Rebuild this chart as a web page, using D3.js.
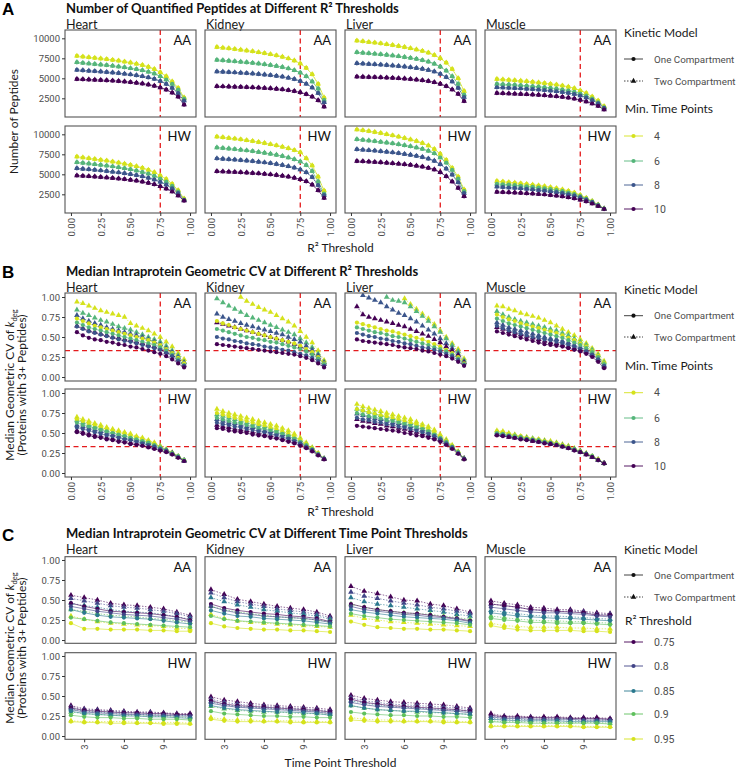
<!DOCTYPE html>
<html><head><meta charset="utf-8">
<script src="https://cdn.jsdelivr.net/npm/d3@7"></script>
<style>body{margin:0;background:#fff}svg{display:block}</style>
</head><body>
<svg id="chart" width="738" height="769"></svg>
<script>
// ---------- categories ----------
const tissues = ["Heart","Kidney","Liver","Muscle"];
const diets = ["AA","HW"];
const models = ["One Compartment","Two Compartment"];
const r2Thresholds = [0.05,0.10,0.15,0.20,0.25,0.30,0.35,0.40,0.45,0.50,0.55,0.60,0.65,0.70,0.75,0.80,0.85,0.90,0.95];
const minTimePoints = [4,6,8,10];
const timePointThresholds = [2,3,4,5,6,7,8,9,10,11];
const r2Levels = [0.75,0.8,0.85,0.9,0.95];
const ticksR2 = [0,0.25,0.5,0.75,1];
const ticksPeptides = [2500,5000,7500,10000];
const ticksCV = [0,0.25,0.5,0.75,1];
const ticksTime = [3,6,9];

// ---------- A: number of peptides (rows = min time points 4,6,8,10) ----------
const pep_Heart_AA = [
 [7800,7700,7620,7550,7470,7390,7300,7200,7080,6960,6820,6650,6430,6150,5750,5250,4600,3800,2600],
 [7000,6920,6850,6780,6710,6640,6560,6470,6370,6260,6140,6000,5820,5590,5250,4850,4300,3600,2450],
 [6050,5990,5940,5890,5840,5780,5720,5650,5570,5480,5380,5260,5110,4920,4650,4300,3800,3150,2200],
 [4900,4870,4840,4810,4780,4740,4700,4650,4590,4520,4440,4340,4220,4060,3850,3580,3200,2700,1700]];
const pep_Heart_HW = [
 [7200,7100,7000,6900,6800,6700,6580,6450,6320,6170,6000,5800,5550,5250,4850,4400,3800,3000,1950],
 [6500,6420,6340,6260,6170,6080,5980,5870,5750,5620,5470,5290,5080,4820,4480,4080,3550,2850,1850],
 [5750,5680,5620,5550,5480,5400,5320,5230,5130,5020,4890,4740,4560,4340,4050,3700,3250,2650,1800],
 [4850,4800,4760,4710,4660,4600,4540,4470,4390,4300,4200,4080,3930,3750,3500,3200,2850,2350,1700]];
const pep_Kidney_AA = [
 [8900,8820,8740,8660,8570,8470,8370,8260,8140,8010,7860,7690,7480,7220,6850,6300,5500,4300,2600],
 [7300,7240,7180,7120,7060,6990,6920,6840,6750,6650,6540,6400,6230,6010,5700,5250,4600,3700,2300],
 [5850,5810,5770,5730,5690,5640,5590,5530,5460,5390,5300,5200,5070,4900,4660,4320,3850,3150,2000],
 [4000,3980,3960,3940,3920,3890,3860,3830,3790,3740,3680,3610,3520,3400,3240,3020,2700,2250,1450]];
const pep_Kidney_HW = [
 [9700,9620,9540,9450,9360,9260,9150,9030,8900,8760,8610,8440,8250,8020,7750,7000,6100,4700,2950],
 [8350,8280,8210,8140,8060,7980,7890,7790,7680,7560,7430,7280,7100,6880,6600,6150,5400,4100,2600],
 [6980,6930,6880,6830,6770,6710,6640,6560,6480,6390,6280,6160,6010,5830,5600,5250,4650,3650,2400],
 [5380,5350,5320,5290,5250,5210,5160,5110,5050,4980,4900,4810,4700,4560,4380,4130,3700,3000,2050]];
const pep_Liver_AA = [
 [9700,9620,9540,9450,9360,9260,9150,9030,8900,8760,8600,8420,8200,7900,7500,6950,6150,5000,3400],
 [8250,8190,8130,8070,8000,7930,7850,7760,7660,7550,7420,7270,7080,6820,6450,5950,5250,4300,2950],
 [6870,6830,6790,6750,6700,6650,6590,6530,6460,6380,6290,6180,6040,5850,5550,5150,4600,3800,2650],
 [5200,5180,5160,5140,5110,5080,5050,5010,4960,4900,4830,4750,4650,4510,4300,4020,3600,3050,2150]];
const pep_Liver_HW = [
 [10600,10500,10400,10280,10150,10010,9860,9700,9530,9350,9150,8900,8600,8150,7550,6800,5800,4700,3100],
 [9380,9300,9220,9140,9050,8960,8860,8750,8630,8500,8350,8170,7940,7620,7100,6450,5550,4450,2900],
 [8120,8070,8010,7950,7880,7810,7730,7640,7540,7430,7300,7150,6950,6680,6250,5700,4950,4000,2650],
 [6650,6620,6580,6540,6490,6440,6380,6320,6250,6170,6070,5950,5800,5600,5250,4750,4100,3300,2250]];
const pep_Muscle_AA = [
 [4900,4850,4800,4740,4680,4620,4550,4470,4390,4300,4200,4080,3940,3750,3480,3150,2700,2200,1500],
 [4300,4260,4220,4170,4120,4070,4010,3950,3880,3800,3710,3600,3480,3320,3100,2830,2450,2000,1380],
 [3880,3850,3810,3770,3730,3690,3640,3590,3530,3460,3380,3290,3180,3040,2850,2600,2280,1880,1300],
 [3150,3130,3100,3070,3040,3010,2970,2930,2880,2820,2750,2670,2580,2450,2300,2100,1850,1550,1100]];
const pep_Muscle_HW = [
 [4150,4080,4010,3940,3860,3780,3690,3600,3500,3380,3250,3100,2920,2700,2400,2050,1650,1200,700],
 [3820,3760,3700,3640,3570,3500,3420,3340,3250,3150,3030,2890,2730,2530,2280,1960,1590,1170,700],
 [3450,3400,3350,3300,3240,3180,3110,3040,2960,2870,2770,2650,2510,2330,2110,1840,1520,1130,690],
 [2800,2770,2740,2710,2670,2630,2590,2540,2480,2410,2330,2240,2130,1990,1820,1610,1350,1040,660]];

// ---------- B: median CV vs R2 threshold (rows = min time points 4,6,8,10) ----------
const cvR2_Heart_AA_one = [
 [0.73,0.70,0.67,0.64,0.62,0.60,0.58,0.56,0.54,0.52,0.50,0.48,0.46,0.43,0.40,0.35,0.30,0.24,0.17],
 [0.68,0.65,0.62,0.60,0.58,0.56,0.54,0.52,0.50,0.48,0.46,0.44,0.42,0.40,0.37,0.33,0.28,0.22,0.15],
 [0.63,0.60,0.57,0.55,0.53,0.51,0.49,0.47,0.45,0.44,0.42,0.40,0.38,0.36,0.34,0.30,0.26,0.20,0.14],
 [0.56,0.52,0.49,0.47,0.46,0.44,0.43,0.41,0.40,0.38,0.37,0.35,0.33,0.31,0.29,0.26,0.22,0.17,0.12]];
const cvR2_Heart_AA_two = [
 [0.94,0.92,0.89,0.86,0.83,0.81,0.79,0.77,0.75,0.67,0.64,0.61,0.58,0.54,0.50,0.44,0.38,0.30,0.22],
 [0.84,0.80,0.77,0.74,0.71,0.69,0.66,0.63,0.61,0.59,0.56,0.53,0.50,0.47,0.44,0.39,0.33,0.27,0.19],
 [0.77,0.73,0.70,0.67,0.65,0.62,0.60,0.58,0.56,0.54,0.52,0.50,0.47,0.44,0.41,0.36,0.31,0.25,0.18],
 [0.64,0.61,0.58,0.56,0.54,0.52,0.50,0.49,0.47,0.46,0.44,0.42,0.40,0.38,0.35,0.31,0.27,0.22,0.15]];
const cvR2_Heart_HW_one = [
 [0.67,0.65,0.62,0.60,0.57,0.55,0.53,0.51,0.49,0.47,0.45,0.43,0.40,0.37,0.33,0.29,0.25,0.21,0.16],
 [0.63,0.60,0.58,0.56,0.54,0.52,0.50,0.48,0.46,0.44,0.42,0.40,0.38,0.35,0.32,0.29,0.25,0.21,0.16],
 [0.57,0.55,0.53,0.51,0.49,0.47,0.46,0.44,0.42,0.41,0.39,0.37,0.35,0.33,0.30,0.28,0.24,0.20,0.15],
 [0.51,0.49,0.47,0.45,0.44,0.42,0.41,0.39,0.38,0.36,0.35,0.34,0.32,0.30,0.28,0.26,0.23,0.19,0.15]];
const cvR2_Heart_HW_two = [
 [0.70,0.67,0.65,0.62,0.60,0.57,0.55,0.53,0.51,0.49,0.46,0.44,0.41,0.38,0.34,0.30,0.26,0.21,0.16],
 [0.66,0.63,0.60,0.58,0.56,0.53,0.51,0.49,0.47,0.45,0.43,0.41,0.39,0.36,0.33,0.29,0.25,0.21,0.16],
 [0.60,0.58,0.56,0.54,0.52,0.50,0.48,0.46,0.44,0.42,0.41,0.39,0.37,0.34,0.31,0.28,0.25,0.20,0.16],
 [0.53,0.51,0.49,0.47,0.46,0.44,0.43,0.41,0.40,0.38,0.37,0.35,0.33,0.31,0.29,0.27,0.24,0.20,0.15]];
const cvR2_Kidney_AA_one = [
 [0.70,0.67,0.65,0.62,0.60,0.58,0.56,0.54,0.52,0.50,0.48,0.46,0.44,0.42,0.39,0.35,0.31,0.25,0.17],
 [0.60,0.58,0.56,0.54,0.52,0.50,0.49,0.47,0.46,0.44,0.43,0.41,0.39,0.37,0.35,0.32,0.28,0.23,0.16],
 [0.50,0.48,0.47,0.45,0.44,0.42,0.41,0.40,0.38,0.37,0.36,0.34,0.33,0.31,0.29,0.27,0.24,0.20,0.14],
 [0.41,0.40,0.39,0.38,0.37,0.36,0.35,0.34,0.33,0.32,0.31,0.30,0.29,0.28,0.26,0.24,0.21,0.17,0.12]];
const cvR2_Kidney_AA_two = [
 [null,null,null,null,1.00,0.95,0.91,0.87,0.84,0.81,0.77,0.73,0.69,0.64,0.57,0.50,0.43,0.33,0.21],
 [0.98,0.93,0.89,0.85,0.81,0.77,0.74,0.71,0.68,0.65,0.62,0.59,0.56,0.53,0.48,0.43,0.37,0.29,0.19],
 [0.79,0.75,0.72,0.70,0.67,0.65,0.63,0.61,0.59,0.57,0.55,0.53,0.50,0.47,0.44,0.39,0.34,0.27,0.18],
 [0.68,0.66,0.64,0.62,0.60,0.58,0.56,0.54,0.52,0.50,0.48,0.46,0.44,0.41,0.38,0.34,0.30,0.24,0.16]];
const cvR2_Kidney_HW_one = [
 [0.75,0.73,0.71,0.69,0.67,0.65,0.63,0.61,0.59,0.57,0.55,0.52,0.49,0.46,0.41,0.36,0.31,0.25,0.18],
 [0.69,0.67,0.65,0.63,0.62,0.60,0.58,0.56,0.55,0.53,0.51,0.49,0.46,0.43,0.39,0.35,0.30,0.24,0.18],
 [0.63,0.61,0.60,0.58,0.57,0.55,0.54,0.52,0.51,0.49,0.47,0.45,0.43,0.40,0.37,0.33,0.29,0.23,0.18],
 [0.56,0.55,0.53,0.52,0.51,0.50,0.48,0.47,0.46,0.44,0.43,0.41,0.39,0.37,0.34,0.31,0.27,0.22,0.17]];
const cvR2_Kidney_HW_two = [
 [0.80,0.77,0.75,0.73,0.71,0.69,0.67,0.65,0.63,0.61,0.59,0.56,0.53,0.49,0.44,0.38,0.32,0.25,0.18],
 [0.73,0.71,0.69,0.67,0.65,0.63,0.61,0.60,0.58,0.56,0.54,0.51,0.48,0.45,0.41,0.36,0.31,0.24,0.18],
 [0.67,0.65,0.63,0.62,0.60,0.58,0.57,0.55,0.53,0.52,0.50,0.48,0.45,0.42,0.38,0.34,0.29,0.24,0.18],
 [0.60,0.58,0.57,0.55,0.54,0.53,0.51,0.50,0.48,0.47,0.45,0.43,0.41,0.39,0.36,0.32,0.28,0.23,0.17]];
const cvR2_Liver_AA_one = [
 [0.68,0.66,0.64,0.62,0.60,0.58,0.57,0.55,0.53,0.51,0.49,0.47,0.44,0.41,0.38,0.34,0.30,0.25,0.17],
 [0.62,0.60,0.58,0.56,0.55,0.53,0.51,0.50,0.48,0.46,0.44,0.42,0.40,0.37,0.35,0.32,0.28,0.23,0.16],
 [0.55,0.53,0.51,0.50,0.48,0.47,0.45,0.44,0.42,0.41,0.39,0.37,0.36,0.34,0.32,0.29,0.26,0.21,0.15],
 [0.47,0.45,0.44,0.43,0.42,0.41,0.40,0.38,0.37,0.36,0.35,0.33,0.32,0.30,0.28,0.26,0.23,0.19,0.14]];
const cvR2_Liver_AA_two = [
 [null,null,null,null,null,null,null,null,0.98,0.91,0.85,0.79,0.73,0.66,0.58,0.50,0.42,0.35,0.23],
 [null,null,null,null,null,1.00,0.96,0.95,0.93,0.88,0.82,0.76,0.70,0.63,0.56,0.48,0.40,0.32,0.21],
 [null,1.02,0.99,0.96,0.93,0.88,0.84,0.80,0.77,0.73,0.69,0.64,0.59,0.54,0.48,0.42,0.36,0.29,0.19],
 [0.88,0.78,0.75,0.73,0.71,0.69,0.67,0.65,0.63,0.60,0.57,0.54,0.51,0.47,0.43,0.38,0.33,0.27,0.18]];
const cvR2_Liver_HW_one = [
 [0.80,0.78,0.76,0.74,0.72,0.71,0.69,0.67,0.65,0.63,0.61,0.58,0.55,0.51,0.46,0.40,0.34,0.26,0.18],
 [0.75,0.73,0.71,0.70,0.68,0.66,0.65,0.63,0.61,0.59,0.57,0.55,0.52,0.48,0.44,0.39,0.33,0.26,0.18],
 [0.69,0.67,0.66,0.64,0.63,0.61,0.60,0.58,0.57,0.55,0.53,0.51,0.49,0.46,0.42,0.37,0.32,0.25,0.18],
 [0.59,0.58,0.57,0.56,0.55,0.54,0.53,0.52,0.50,0.49,0.47,0.46,0.44,0.42,0.39,0.35,0.30,0.24,0.17]];
const cvR2_Liver_HW_two = [
 [0.86,0.83,0.81,0.79,0.77,0.75,0.73,0.71,0.69,0.67,0.64,0.61,0.58,0.54,0.48,0.42,0.35,0.27,0.18],
 [0.80,0.78,0.76,0.74,0.72,0.70,0.68,0.66,0.64,0.62,0.60,0.57,0.54,0.50,0.45,0.40,0.33,0.26,0.18],
 [0.74,0.72,0.70,0.68,0.67,0.65,0.63,0.62,0.60,0.58,0.56,0.54,0.51,0.47,0.43,0.38,0.32,0.25,0.18],
 [0.67,0.65,0.64,0.62,0.61,0.59,0.58,0.56,0.55,0.53,0.51,0.49,0.47,0.44,0.41,0.36,0.31,0.25,0.18]];
const cvR2_Muscle_AA_one = [
 [0.78,0.75,0.72,0.70,0.67,0.65,0.63,0.61,0.59,0.57,0.55,0.52,0.49,0.46,0.42,0.38,0.32,0.26,0.17],
 [0.73,0.70,0.67,0.65,0.63,0.61,0.59,0.57,0.55,0.53,0.51,0.49,0.46,0.43,0.40,0.36,0.31,0.25,0.16],
 [0.64,0.61,0.58,0.56,0.54,0.52,0.50,0.49,0.47,0.46,0.44,0.42,0.40,0.38,0.35,0.32,0.28,0.22,0.14],
 [0.57,0.55,0.53,0.51,0.49,0.47,0.45,0.43,0.41,0.40,0.39,0.38,0.36,0.34,0.32,0.29,0.25,0.19,0.11]];
const cvR2_Muscle_AA_two = [
 [0.89,0.88,0.85,0.83,0.80,0.78,0.76,0.74,0.71,0.68,0.64,0.60,0.56,0.52,0.47,0.42,0.36,0.29,0.20],
 [0.82,0.78,0.75,0.72,0.70,0.68,0.66,0.64,0.62,0.60,0.58,0.55,0.52,0.48,0.44,0.40,0.34,0.27,0.18],
 [0.68,0.65,0.62,0.60,0.58,0.56,0.54,0.52,0.50,0.48,0.47,0.45,0.43,0.40,0.37,0.34,0.29,0.23,0.15],
 [0.62,0.60,0.57,0.55,0.53,0.51,0.49,0.47,0.45,0.43,0.42,0.40,0.38,0.36,0.34,0.31,0.27,0.21,0.13]];
const cvR2_Muscle_HW_one = [
 [0.52,0.51,0.49,0.47,0.46,0.44,0.43,0.42,0.40,0.39,0.37,0.35,0.33,0.30,0.27,0.24,0.21,0.17,0.12],
 [0.50,0.49,0.47,0.46,0.45,0.43,0.42,0.41,0.39,0.38,0.36,0.34,0.32,0.30,0.27,0.24,0.21,0.16,0.12],
 [0.48,0.47,0.46,0.44,0.43,0.42,0.41,0.39,0.38,0.37,0.35,0.33,0.31,0.29,0.26,0.24,0.20,0.16,0.12],
 [0.47,0.46,0.45,0.44,0.42,0.41,0.40,0.39,0.37,0.36,0.35,0.33,0.31,0.28,0.26,0.23,0.20,0.16,0.12]];
const cvR2_Muscle_HW_two = [
 [0.53,0.52,0.50,0.48,0.46,0.45,0.43,0.42,0.41,0.40,0.38,0.36,0.34,0.31,0.28,0.25,0.21,0.17,0.12],
 [0.51,0.50,0.48,0.47,0.45,0.44,0.43,0.41,0.40,0.38,0.37,0.35,0.33,0.30,0.27,0.24,0.21,0.17,0.12],
 [0.49,0.48,0.47,0.45,0.44,0.43,0.41,0.40,0.39,0.37,0.36,0.34,0.32,0.29,0.27,0.24,0.20,0.16,0.12],
 [0.48,0.47,0.45,0.44,0.43,0.42,0.40,0.39,0.38,0.36,0.35,0.33,0.31,0.29,0.26,0.23,0.20,0.16,0.12]];

// ---------- C: median CV vs time point threshold (rows = R2 0.75,0.8,0.85,0.9,0.95) ----------
const cvTp_Heart_AA_one = [
 [0.46,0.42,0.39,0.36,0.35,0.34,0.33,0.31,0.29,0.25],
 [0.42,0.39,0.36,0.34,0.32,0.31,0.30,0.28,0.26,0.23],
 [0.38,0.34,0.31,0.29,0.28,0.27,0.26,0.24,0.22,0.20],
 [0.28,0.26,0.24,0.22,0.21,0.20,0.19,0.18,0.17,0.16],
 [0.21,0.14,0.14,0.13,0.13,0.13,0.12,0.12,0.11,0.11]];
const cvTp_Heart_AA_two = [
 [0.56,0.53,0.50,0.46,0.44,0.43,0.41,0.39,0.35,0.31],
 [0.52,0.49,0.46,0.43,0.41,0.40,0.38,0.36,0.33,0.29],
 [0.46,0.43,0.41,0.38,0.36,0.35,0.34,0.32,0.29,0.26],
 [0.38,0.36,0.33,0.31,0.30,0.29,0.27,0.26,0.24,0.22],
 [0.30,0.26,0.23,0.21,0.20,0.19,0.18,0.17,0.15,0.14]];
const cvTp_Heart_HW_one = [
 [0.35,0.32,0.31,0.30,0.29,0.29,0.28,0.28,0.27,0.27],
 [0.33,0.30,0.29,0.28,0.27,0.27,0.26,0.26,0.25,0.25],
 [0.31,0.28,0.27,0.26,0.25,0.25,0.24,0.24,0.23,0.22],
 [0.26,0.24,0.23,0.23,0.22,0.22,0.21,0.21,0.21,0.20],
 [0.18,0.17,0.17,0.16,0.16,0.16,0.16,0.15,0.15,0.15]];
const cvTp_Heart_HW_two = [
 [0.38,0.34,0.33,0.32,0.31,0.30,0.30,0.29,0.28,0.28],
 [0.36,0.33,0.32,0.31,0.30,0.29,0.29,0.28,0.27,0.27],
 [0.34,0.31,0.30,0.29,0.28,0.27,0.27,0.26,0.26,0.25],
 [0.30,0.28,0.27,0.26,0.26,0.25,0.25,0.24,0.24,0.23],
 [0.19,0.18,0.18,0.18,0.18,0.17,0.17,0.17,0.17,0.16]];
const cvTp_Kidney_AA_one = [
 [0.45,0.40,0.37,0.35,0.33,0.32,0.30,0.29,0.27,0.23],
 [0.42,0.37,0.34,0.32,0.30,0.29,0.28,0.27,0.25,0.22],
 [0.37,0.33,0.30,0.29,0.27,0.26,0.25,0.24,0.22,0.20],
 [0.30,0.26,0.24,0.23,0.22,0.21,0.20,0.19,0.18,0.17],
 [0.21,0.17,0.15,0.14,0.13,0.13,0.12,0.12,0.11,0.10]];
const cvTp_Kidney_AA_two = [
 [0.63,0.57,0.51,0.48,0.45,0.42,0.40,0.38,0.35,0.30],
 [0.59,0.53,0.48,0.45,0.42,0.39,0.37,0.35,0.32,0.28],
 [0.53,0.48,0.44,0.41,0.38,0.36,0.34,0.32,0.30,0.26],
 [0.42,0.38,0.35,0.33,0.31,0.29,0.28,0.27,0.25,0.23],
 [0.32,0.27,0.24,0.22,0.21,0.20,0.19,0.18,0.17,0.16]];
const cvTp_Kidney_HW_one = [
 [0.44,0.40,0.38,0.37,0.36,0.35,0.34,0.33,0.32,0.30],
 [0.41,0.38,0.36,0.35,0.34,0.33,0.32,0.31,0.30,0.28],
 [0.38,0.35,0.33,0.32,0.31,0.30,0.30,0.29,0.28,0.26],
 [0.31,0.28,0.27,0.26,0.25,0.25,0.24,0.24,0.23,0.23],
 [0.21,0.19,0.18,0.18,0.18,0.18,0.17,0.17,0.17,0.17]];
const cvTp_Kidney_HW_two = [
 [0.49,0.45,0.43,0.41,0.39,0.38,0.37,0.36,0.35,0.33],
 [0.46,0.42,0.40,0.38,0.37,0.36,0.35,0.34,0.33,0.31],
 [0.43,0.39,0.37,0.36,0.35,0.34,0.33,0.32,0.31,0.29],
 [0.37,0.34,0.32,0.31,0.30,0.30,0.29,0.28,0.28,0.27],
 [0.23,0.21,0.20,0.20,0.19,0.19,0.19,0.18,0.18,0.18]];
const cvTp_Liver_AA_one = [
 [0.45,0.41,0.38,0.36,0.34,0.33,0.31,0.29,0.27,0.24],
 [0.42,0.38,0.36,0.34,0.32,0.31,0.29,0.28,0.26,0.23],
 [0.38,0.35,0.33,0.31,0.29,0.28,0.27,0.26,0.24,0.21],
 [0.33,0.30,0.28,0.26,0.25,0.24,0.23,0.22,0.21,0.19],
 [0.23,0.19,0.16,0.15,0.14,0.14,0.13,0.13,0.12,0.11]];
const cvTp_Liver_AA_two = [
 [0.67,0.61,0.58,0.54,0.50,0.49,0.45,0.43,0.39,0.35],
 [0.60,0.55,0.52,0.49,0.46,0.44,0.41,0.39,0.36,0.33],
 [0.53,0.48,0.45,0.43,0.41,0.39,0.37,0.35,0.32,0.30],
 [0.45,0.41,0.38,0.36,0.34,0.33,0.32,0.30,0.28,0.26],
 [0.31,0.27,0.25,0.23,0.22,0.21,0.20,0.19,0.18,0.17]];
const cvTp_Liver_HW_one = [
 [0.46,0.42,0.40,0.38,0.37,0.36,0.35,0.34,0.33,0.31],
 [0.42,0.39,0.37,0.36,0.35,0.34,0.33,0.32,0.31,0.29],
 [0.38,0.35,0.33,0.32,0.31,0.31,0.30,0.29,0.28,0.27],
 [0.30,0.28,0.27,0.26,0.26,0.25,0.25,0.24,0.24,0.23],
 [0.20,0.19,0.18,0.18,0.18,0.18,0.18,0.17,0.17,0.17]];
const cvTp_Liver_HW_two = [
 [0.51,0.47,0.45,0.43,0.42,0.41,0.40,0.39,0.37,0.35],
 [0.48,0.44,0.42,0.40,0.39,0.38,0.37,0.36,0.35,0.33],
 [0.44,0.41,0.39,0.37,0.36,0.35,0.34,0.33,0.32,0.31],
 [0.38,0.35,0.33,0.32,0.31,0.30,0.29,0.29,0.28,0.27],
 [0.23,0.21,0.20,0.20,0.19,0.19,0.19,0.19,0.18,0.18]];
const cvTp_Muscle_AA_one = [
 [0.45,0.43,0.41,0.38,0.37,0.36,0.35,0.34,0.31,0.31],
 [0.41,0.39,0.37,0.35,0.34,0.34,0.33,0.32,0.30,0.29],
 [0.34,0.32,0.30,0.29,0.28,0.27,0.27,0.26,0.25,0.24],
 [0.27,0.25,0.24,0.22,0.22,0.21,0.21,0.21,0.20,0.19],
 [0.18,0.15,0.13,0.12,0.12,0.12,0.12,0.11,0.11,0.10]];
const cvTp_Muscle_AA_two = [
 [0.49,0.46,0.44,0.41,0.40,0.38,0.38,0.36,0.34,0.33],
 [0.45,0.43,0.41,0.38,0.37,0.36,0.36,0.35,0.32,0.32],
 [0.37,0.35,0.33,0.31,0.30,0.30,0.29,0.28,0.27,0.26],
 [0.30,0.28,0.26,0.25,0.24,0.24,0.23,0.23,0.22,0.21],
 [0.21,0.18,0.17,0.16,0.16,0.16,0.15,0.15,0.14,0.14]];
const cvTp_Muscle_HW_one = [
 [0.26,0.24,0.24,0.23,0.23,0.23,0.22,0.22,0.22,0.21],
 [0.24,0.22,0.22,0.21,0.21,0.21,0.21,0.20,0.20,0.20],
 [0.21,0.20,0.19,0.19,0.19,0.19,0.18,0.18,0.18,0.18],
 [0.18,0.17,0.17,0.16,0.16,0.16,0.16,0.16,0.16,0.15],
 [0.12,0.12,0.12,0.12,0.12,0.12,0.12,0.11,0.11,0.11]];
const cvTp_Muscle_HW_two = [
 [0.28,0.25,0.25,0.24,0.24,0.24,0.23,0.23,0.23,0.22],
 [0.25,0.24,0.23,0.23,0.22,0.22,0.22,0.22,0.21,0.21],
 [0.22,0.21,0.21,0.20,0.20,0.20,0.20,0.19,0.19,0.19],
 [0.19,0.18,0.18,0.18,0.17,0.17,0.17,0.17,0.17,0.16],
 [0.13,0.13,0.13,0.13,0.13,0.13,0.13,0.12,0.12,0.12]];

const pepData = {Heart:{AA:pep_Heart_AA,HW:pep_Heart_HW},Kidney:{AA:pep_Kidney_AA,HW:pep_Kidney_HW},
  Liver:{AA:pep_Liver_AA,HW:pep_Liver_HW},Muscle:{AA:pep_Muscle_AA,HW:pep_Muscle_HW}};
const cvR2Data = {
  Heart:{AA:[cvR2_Heart_AA_one,cvR2_Heart_AA_two],HW:[cvR2_Heart_HW_one,cvR2_Heart_HW_two]},
  Kidney:{AA:[cvR2_Kidney_AA_one,cvR2_Kidney_AA_two],HW:[cvR2_Kidney_HW_one,cvR2_Kidney_HW_two]},
  Liver:{AA:[cvR2_Liver_AA_one,cvR2_Liver_AA_two],HW:[cvR2_Liver_HW_one,cvR2_Liver_HW_two]},
  Muscle:{AA:[cvR2_Muscle_AA_one,cvR2_Muscle_AA_two],HW:[cvR2_Muscle_HW_one,cvR2_Muscle_HW_two]}};
const cvTpData = {
  Heart:{AA:[cvTp_Heart_AA_one,cvTp_Heart_AA_two],HW:[cvTp_Heart_HW_one,cvTp_Heart_HW_two]},
  Kidney:{AA:[cvTp_Kidney_AA_one,cvTp_Kidney_AA_two],HW:[cvTp_Kidney_HW_one,cvTp_Kidney_HW_two]},
  Liver:{AA:[cvTp_Liver_AA_one,cvTp_Liver_AA_two],HW:[cvTp_Liver_HW_one,cvTp_Liver_HW_two]},
  Muscle:{AA:[cvTp_Muscle_AA_one,cvTp_Muscle_AA_two],HW:[cvTp_Muscle_HW_one,cvTp_Muscle_HW_two]}};

const tpColors = ["#d5e21b","#55b57a","#3b558b","#440154"];
const r2Colors = ["#440154","#414487","#2a788e","#5ec05c","#d5e21b"];

// ---------- drawing ----------
const svg = d3.select("#chart");
const TXT = "Lato, 'Source Sans Pro', sans-serif";
const TICK = "Roboto, sans-serif";
const colLeft = tissues.map((t,i)=>65+140*i);
const panelW = 131;

function section(cfg){
  const g = svg.append("g");
  g.append("text").attr("x",2).attr("y",cfg.letterY).text(cfg.letter)
   .attr("font-family","'Liberation Sans', Arial, sans-serif").attr("font-weight","bold").attr("font-size",17);
  g.append("text").attr("x",66).attr("y",cfg.titleY).text(cfg.title)
   .attr("font-family",TXT).attr("font-weight","bold").attr("font-size",13).attr("fill","#111");
  const x = d3.scaleLinear().domain(cfg.xDomain).range([0,panelW]);
  tissues.forEach((t,ci)=>{
    g.append("text").attr("x",colLeft[ci]+1).attr("y",cfg.stripY).text(t)
     .attr("font-family",TXT).attr("font-size",12.6).attr("fill","#1a1a1a");
    diets.forEach((dt,ri)=>{
      const top = cfg.rowTop[ri];
      const y = d3.scaleLinear().domain(cfg.yDomain).range([cfg.rowH,0]);
      const p = g.append("g").attr("transform",`translate(${colLeft[ci]},${top})`);
      const clipId = `clip${cfg.letter}${ci}${ri}`;
      p.append("clipPath").attr("id",clipId).append("rect").attr("width",panelW).attr("height",cfg.rowH);
      const series = cfg.series(t,dt);
      const inner = p.append("g").attr("clip-path",`url(#${clipId})`);
      if(cfg.vline!=null) inner.append("line").attr("x1",x(cfg.vline)).attr("x2",x(cfg.vline)).attr("y1",0).attr("y2",cfg.rowH)
        .attr("stroke","#e41a1c").attr("stroke-width",1.3).attr("stroke-dasharray","5,3.5");
      if(cfg.hline!=null) inner.append("line").attr("y1",y(cfg.hline)).attr("y2",y(cfg.hline)).attr("x1",0).attr("x2",panelW)
        .attr("stroke","#e41a1c").attr("stroke-width",1.3).attr("stroke-dasharray","5,3.5");
      const line = d3.line().defined(d=>d[1]!=null).x(d=>x(d[0])).y(d=>y(d[1]));
      series.forEach(s=>{
        const pts = cfg.xs.map((xv,i)=>[xv,s.values[i]]);
        inner.append("path").attr("d",line(pts)).attr("fill","none").attr("stroke",s.color)
          .attr("stroke-width",0.8).attr("stroke-opacity",0.75)
          .attr("stroke-dasharray",s.model===1?"1.5,1.5":null);
      });
      series.forEach(s=>{
        const pts = cfg.xs.map((xv,i)=>[xv,s.values[i]]).filter(d=>d[1]!=null);
        if(s.model===0){
          inner.selectAll(null).data(pts).enter().append("circle").attr("cx",d=>x(d[0])).attr("cy",d=>y(d[1]))
            .attr("r",2.1).attr("fill",s.color);
        } else {
          inner.selectAll(null).data(pts).enter().append("path").attr("d",d3.symbol(d3.symbolTriangle,14))
            .attr("transform",d=>`translate(${x(d[0])},${y(d[1])})`).attr("fill",s.color);
        }
      });
      p.append("rect").attr("width",panelW).attr("height",cfg.rowH).attr("fill","none")
        .attr("stroke","#555").attr("stroke-width",1.1);
      p.append("text").attr("x",panelW-5).attr("y",15).attr("text-anchor","end").text(dt)
        .attr("font-family",TXT).attr("font-size",13).attr("fill","#111");
      if(ci===0){
        const ax = p.append("g").call(d3.axisLeft(y).tickValues(cfg.yTicks).tickFormat(cfg.yFmt).tickSize(3).tickPadding(2));
        ax.select(".domain").remove();
        ax.selectAll("line").attr("stroke","#333");
        ax.selectAll("text").attr("font-family",TICK).attr("font-size",9.5).attr("fill","#4d4d4d");
      }
      if(ri===1){
        const ax = p.append("g").attr("transform",`translate(0,${cfg.rowH})`)
          .call(d3.axisBottom(x).tickValues(cfg.xTicks).tickFormat(cfg.xFmt).tickSize(3).tickPadding(2));
        ax.select(".domain").remove();
        ax.selectAll("line").attr("stroke","#333");
        ax.selectAll("text").attr("font-family",TICK).attr("font-size",9.5).attr("fill","#4d4d4d")
          .attr("transform","rotate(-90)").attr("text-anchor","end").attr("dy","0.35em").attr("x",-5).attr("y",0);
      }
    });
  });
  g.append("text").attr("x",340.5).attr("y",cfg.xTitleY).attr("text-anchor","middle").text(cfg.xTitle)
    .attr("font-family",TXT).attr("font-size",12).attr("fill","#1a1a1a");
  const yc = (cfg.rowTop[0]+cfg.rowTop[1]+cfg.rowH)/2;
  cfg.yTitle(g,yc);
  const L = cfg.legend;
  g.append("text").attr("x",624).attr("y",L.t1+4).text("Kinetic Model").attr("font-family",TXT).attr("font-size",12).attr("fill","#1a1a1a");
  models.forEach((m,i)=>{
    const yy = L.m[i];
    g.append("line").attr("x1",624).attr("x2",643).attr("y1",yy).attr("y2",yy).attr("stroke","#111").attr("stroke-width",0.8)
      .attr("stroke-dasharray",i===1?"1.5,1.5":null);
    if(i===0) g.append("circle").attr("cx",633.5).attr("cy",yy).attr("r",2.1).attr("fill","#111");
    else g.append("path").attr("d",d3.symbol(d3.symbolTriangle,14)).attr("transform",`translate(633.5,${yy})`).attr("fill","#111");
    g.append("text").attr("x",654).attr("y",yy+3.5).text(m).attr("font-family",TICK).attr("font-size",9.8).attr("fill","#4d4d4d");
  });
  g.append("text").attr("x",625).attr("y",L.t2+4).text(L.title2).attr("font-family",TXT).attr("font-size",12).attr("fill","#1a1a1a");
  L.labels.forEach((lab,i)=>{
    const yy = L.c[i];
    g.append("line").attr("x1",624).attr("x2",643).attr("y1",yy).attr("y2",yy).attr("stroke",L.colors[i]).attr("stroke-width",0.9);
    g.append("circle").attr("cx",633.5).attr("cy",yy).attr("r",2.1).attr("fill",L.colors[i]);
    g.append("text").attr("x",654).attr("y",yy+3.5).text(lab).attr("font-family",TICK).attr("font-size",10.5).attr("fill","#4d4d4d");
  });
}

function cvYTitle(g,yc){
  const t = g.append("text").attr("transform",`translate(14,${yc}) rotate(-90)`).attr("text-anchor","middle")
    .attr("font-family",TXT).attr("font-size",12).attr("fill","#1a1a1a");
  t.append("tspan").text("Median Geometric CV of ");
  t.append("tspan").text("k").attr("font-style","italic");
  t.append("tspan").text("deg").attr("font-size",7.5).attr("dy",2.5);
  g.append("text").attr("transform",`translate(26,${yc}) rotate(-90)`).attr("text-anchor","middle")
    .attr("font-family",TXT).attr("font-size",12).attr("fill","#1a1a1a").text("(Proteins with 3+ Peptides)");
}
const fmt2 = d3.format(".2f");

section({
  letter:"A", letterY:15, title:"Number of Quantified Peptides at Different R² Thresholds", titleY:12.5, stripY:28.5,
  rowTop:[30,126], rowH:87, xDomain:[-0.05,1.05], yDomain:[165,11040], xs:r2Thresholds,
  xTicks:ticksR2, xFmt:fmt2, yTicks:ticksPeptides, yFmt:d3.format("d"),
  vline:0.75, hline:null, xTitle:"R² Threshold", xTitleY:252,
  series:(t,dt)=>{const out=[]; [1,0].forEach(m=>pepData[t][dt].forEach((v,i)=>out.push({values:v,color:tpColors[i],model:m}))); return out;},
  yTitle:(g,yc)=>g.append("text").attr("transform",`translate(18,${yc}) rotate(-90)`).attr("text-anchor","middle")
    .attr("font-family",TXT).attr("font-size",12).attr("fill","#1a1a1a").text("Number of Peptides"),
  legend:{t1:33,m:[59,81],t2:109,title2:"Min. Time Points",c:[136,161,185,209],labels:minTimePoints.map(String),colors:tpColors}
});
section({
  letter:"B", letterY:278, title:"Median Intraprotein Geometric CV at Different R² Thresholds", titleY:275.5, stripY:291.5,
  rowTop:[293,389], rowH:88, xDomain:[-0.05,1.05], yDomain:[-0.05,1.05], xs:r2Thresholds,
  xTicks:ticksR2, xFmt:fmt2, yTicks:ticksCV, yFmt:fmt2,
  vline:0.75, hline:0.33, xTitle:"R² Threshold", xTitleY:516,
  series:(t,dt)=>{const out=[]; [1,0].forEach(m=>cvR2Data[t][dt][m].forEach((v,i)=>out.push({values:v,color:tpColors[i],model:m}))); return out;},
  yTitle:cvYTitle,
  legend:{t1:290,m:[315.7,337],t2:366,title2:"Min. Time Points",c:[392.7,418,442,466],labels:minTimePoints.map(String),colors:tpColors}
});
section({
  letter:"C", letterY:541, title:"Median Intraprotein Geometric CV at Different Time Point Thresholds", titleY:537.5, stripY:554,
  rowTop:[556.7,652.7], rowH:86.6, xDomain:[1.55,11.45], yDomain:[-0.041,1.041], xs:timePointThresholds,
  xTicks:ticksTime, xFmt:d3.format("d"), yTicks:ticksCV, yFmt:fmt2,
  vline:null, hline:null, xTitle:"Time Point Threshold", xTitleY:767,
  series:(t,dt)=>{const out=[]; [1,0].forEach(m=>cvTpData[t][dt][m].forEach((v,i)=>out.push({values:v,color:r2Colors[i],model:m}))); return out;},
  yTitle:cvYTitle,
  legend:{t1:550,m:[575,597],t2:621,title2:"R² Threshold",c:[642,666,691,714,739],labels:r2Levels.map(String),colors:r2Colors}
});
</script>
</body></html>
